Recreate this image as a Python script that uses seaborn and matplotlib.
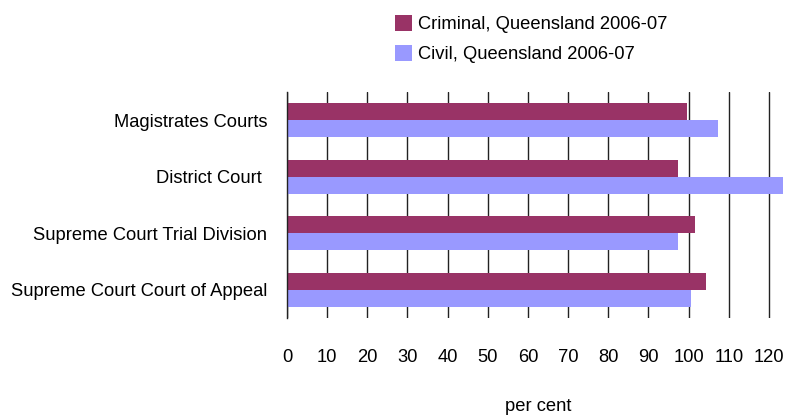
import matplotlib
matplotlib.use("Agg")
import matplotlib.pyplot as plt
import seaborn as sns
import pandas as pd

courts = ["Magistrates Courts", "District Court ", "Supreme Court Trial Division",
          "Supreme Court Court of Appeal"]
criminal = [99.5, 97.3, 101.5, 104.3]
civil = [107.2, 123.4, 97.3, 100.5]
series = ["Criminal, Queensland 2006-07", "Civil, Queensland 2006-07"]
colors = ["#993366", "#9999FF"]
xticks = list(range(0, 121, 10))

df = pd.DataFrame({
    "court": courts * 2,
    "value": criminal + civil,
    "series": [series[0]] * len(courts) + [series[1]] * len(courts),
})

sns.set_style("white")
plt.rcParams["font.family"] = ["Liberation Sans", "DejaVu Sans"]
plt.rcParams["text.color"] = "black"
plt.rcParams["xtick.color"] = "black"
plt.rcParams["ytick.color"] = "black"
plt.rcParams["axes.labelcolor"] = "black"
FS = 13.2

fig = plt.figure(figsize=(7.99, 4.19), dpi=100)
ax = fig.add_axes([287 / 799, 1 - 318 / 419, (789 - 287) / 799, (318 - 92) / 419])

sns.barplot(data=df, y="court", x="value", hue="series", order=courts,
            hue_order=series, palette=colors, width=0.6, ax=ax,
            saturation=1, errorbar=None, legend=True, linewidth=0)

ax.set_xlim(0, 125)
ax.set_xticks(xticks)
ax.set_xticklabels([str(t) for t in xticks], fontsize=FS)
ax.tick_params(axis="x", length=0, pad=22.5)
ax.tick_params(axis="y", length=0, pad=14.4, labelsize=FS)
ax.set_ylabel("")
ax.set_xlabel("per cent", fontsize=FS, labelpad=22.5)
ax.grid(axis="x", color="#222222", linewidth=1.0)
ax.set_axisbelow(True)
for s in ["top", "right", "bottom"]:
    ax.spines[s].set_visible(False)
ax.spines["left"].set_color("#222222")
ax.spines["left"].set_linewidth(1.0)

handles, labels = ax.get_legend_handles_labels()
ax.get_legend().remove()
fig.legend(handles, labels, loc="upper left",
           bbox_to_anchor=(395 / 799, 1 - 15 / 419), frameon=False,
           fontsize=FS, handlelength=0.95, handleheight=0.95,
           handletextpad=0.3, labelspacing=0.65, borderpad=0, borderaxespad=0)

fig.savefig("out.png", dpi=100)
